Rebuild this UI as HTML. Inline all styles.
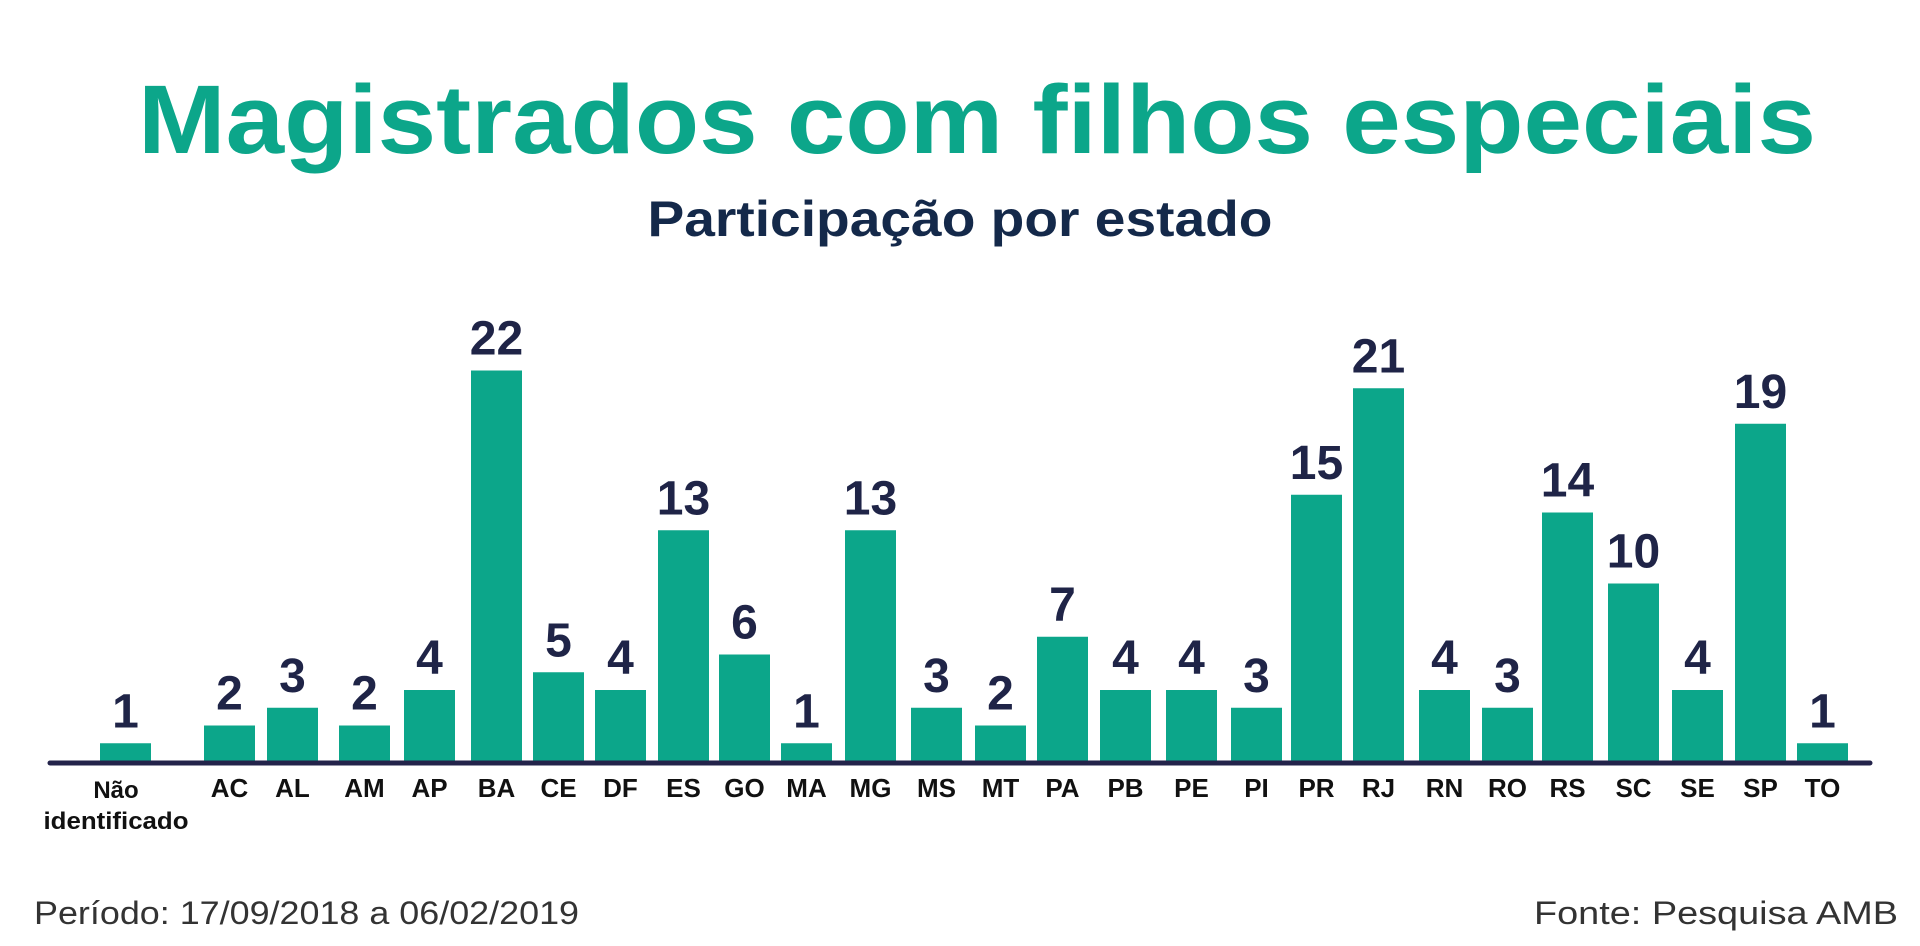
<!DOCTYPE html>
<html><head><meta charset="utf-8"><style>
html,body{margin:0;padding:0;background:#fff;}
svg{display:block;}
</style></head><body>
<svg width="1920" height="946" viewBox="0 0 1920 946" xmlns="http://www.w3.org/2000/svg">
<text x="977" y="153" text-anchor="middle" font-family="Liberation Sans, sans-serif" font-weight="bold" font-size="97" fill="#0ca68a" textLength="1678" lengthAdjust="spacingAndGlyphs">Magistrados com filhos especiais</text>
<text x="960" y="236" text-anchor="middle" font-family="Liberation Sans, sans-serif" font-weight="bold" font-size="50" fill="#14294a" textLength="625" lengthAdjust="spacingAndGlyphs">Participação por estado</text>
<g id="bars" fill="#0ca68a"></g>
<g id="vals" font-family="Liberation Sans, sans-serif" font-weight="bold" font-size="48" fill="#1f2447" text-anchor="middle"></g>
<g id="labs" font-family="Liberation Sans, sans-serif" font-weight="bold" font-size="26" fill="#111" text-anchor="middle"></g>
<line x1="50" y1="763" x2="1870" y2="763" stroke="#23234a" stroke-width="5" stroke-linecap="round"/>
<text x="34" y="924" font-family="Liberation Sans, sans-serif" font-size="32" fill="#333" textLength="545" lengthAdjust="spacingAndGlyphs">Período: 17/09/2018 a 06/02/2019</text>
<text x="1898" y="924" text-anchor="end" font-family="Liberation Sans, sans-serif" font-size="32" fill="#333" textLength="364" lengthAdjust="spacingAndGlyphs">Fonte: Pesquisa AMB</text>
<text x="116" y="798" text-anchor="middle" font-family="Liberation Sans, sans-serif" font-weight="bold" font-size="24" fill="#111">Não</text>
<text x="116" y="829" text-anchor="middle" font-family="Liberation Sans, sans-serif" font-weight="bold" font-size="24" fill="#111" textLength="145" lengthAdjust="spacingAndGlyphs">identificado</text>
</svg>
<script>
var d=[["",100,1],["AC",204,2],["AL",267,3],["AM",339,2],["AP",404,4],["BA",471,22],["CE",533,5],["DF",595,4],["ES",658,13],["GO",719,6],["MA",781,1],["MG",845,13],["MS",911,3],["MT",975,2],["PA",1037,7],["PB",1100,4],["PE",1166,4],["PI",1231,3],["PR",1291,15],["RJ",1353,21],["RN",1419,4],["RO",1482,3],["RS",1542,14],["SC",1608,10],["SE",1672,4],["SP",1735,19],["TO",1797,1]];
var ns="http://www.w3.org/2000/svg",B=document.getElementById("bars"),V=document.getElementById("vals"),L=document.getElementById("labs");
d.forEach(function(r){var h=r[2]*17.75;var top=761-h,cx=r[1]+25.5;
var e=document.createElementNS(ns,"rect");e.setAttribute("x",r[1]);e.setAttribute("y",top);e.setAttribute("width",51);e.setAttribute("height",h);B.appendChild(e);
var t=document.createElementNS(ns,"text");t.setAttribute("x",cx);t.setAttribute("y",top-16);t.textContent=r[2];V.appendChild(t);
if(r[0]){var l=document.createElementNS(ns,"text");l.setAttribute("x",cx);l.setAttribute("y",797);l.textContent=r[0];L.appendChild(l);}});
</script>
</body></html>
